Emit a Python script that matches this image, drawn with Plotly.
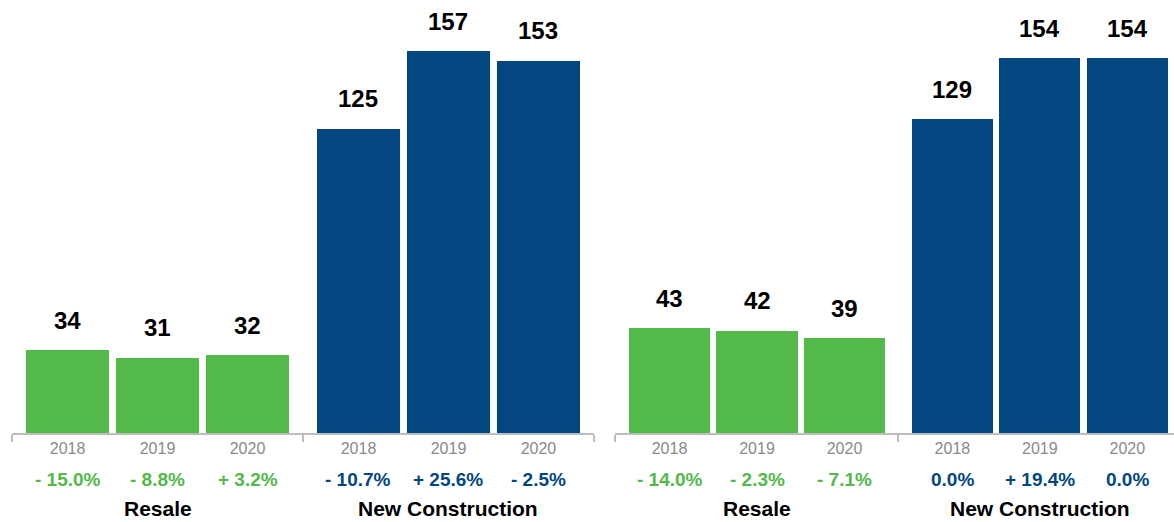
import plotly.graph_objects as go

# ---- data ----
years = ["2018", "2019", "2020"]
groups = ["Resale", "New Construction"]

left_resale = [34, 31, 32]
left_newcon = [125, 157, 153]
left_resale_pct = ["- 15.0%", "- 8.8%", "+ 3.2%"]
left_newcon_pct = ["- 10.7%", "+ 25.6%", "- 2.5%"]

right_resale = [43, 42, 39]
right_newcon = [129, 154, 154]
right_resale_pct = ["- 14.0%", "- 2.3%", "- 7.1%"]
right_newcon_pct = ["0.0%", "+ 19.4%", "0.0%"]

GREEN = "#53b94a"
BLUE = "#02477f"
FONT = "Liberation Sans, Arial, Helvetica, sans-serif"

GROUP_STEP = 3.233  # spacing between the two category groups (in bar slots)

panels = [
    dict(vals=[left_resale, left_newcon], pcts=[left_resale_pct, left_newcon_pct],
         xa="x", ya="y", width=0.922, pad=0.156, right_end=None),
    dict(vals=[right_resale, right_newcon], pcts=[right_resale_pct, right_newcon_pct],
         xa="x2", ya="y2", width=0.926, pad=0.16, right_end=5.766),
]

fig = go.Figure()
annotations = []
axes_cfg = {}

for p_i, p in enumerate(panels):
    for g_i, (vals, pcts) in enumerate(zip(p["vals"], p["pcts"])):
        color = GREEN if g_i == 0 else BLUE
        xs = [g_i * GROUP_STEP + i for i in range(len(years))]
        fig.add_trace(go.Bar(
            x=xs, y=vals, width=p["width"], marker=dict(color=color, line=dict(width=0)),
            xaxis=p["xa"], yaxis=p["ya"], showlegend=False, hoverinfo="skip",
        ))
        for x, v, pct in zip(xs, vals, pcts):
            annotations.append(dict(
                x=x, y=v, xref=p["xa"], yref=p["ya"], text=f"<b>{v}</b>",
                showarrow=False, yanchor="middle", yshift=30,
                font=dict(family=FONT, size=24, color="#000000"),
            ))
            annotations.append(dict(
                x=x, y=0, xref=p["xa"], yref=p["ya"], text=f"<b>{pct}</b>",
                showarrow=False, yanchor="middle", yshift=-46,
                font=dict(family=FONT, size=19, color=color),
            ))
        annotations.append(dict(
            x=g_i * GROUP_STEP + 1, y=0, xref=p["xa"], yref=p["ya"],
            text=f"<b>{groups[g_i]}</b>", showarrow=False, yanchor="middle", yshift=-75,
            font=dict(family=FONT, size=21, color="#000000"),
        ))

    half = p["width"] / 2
    left_edge = -half - p["pad"]
    mid = (2 + half + GROUP_STEP - half) / 2
    right_bracket = GROUP_STEP + 2 + half + p["pad"]
    rng_right = p["right_end"] if p["right_end"] is not None else right_bracket
    tickvals = [g * GROUP_STEP + i for g in range(2) for i in range(3)]
    axes_cfg[p["xa"]] = dict(
        range=[left_edge, rng_right],
        tickvals=tickvals, ticktext=years * 2, ticks="",
        tickfont=dict(family=FONT, size=16, color="#8a8a8a"),
        showline=True, linecolor="#bdbdbd", linewidth=2,
        showgrid=False, zeroline=False, fixedrange=True,
        minor=dict(tickvals=[left_edge, mid, right_bracket], ticks="outside",
                   ticklen=7, tickwidth=2, tickcolor="#bdbdbd", showgrid=False),
    )

W, H = 1174, 522
fig.update_layout(
    width=W, height=H,
    margin=dict(l=0, r=0, t=0, b=89),
    plot_bgcolor="white", paper_bgcolor="white",
    bargap=0,
    annotations=annotations,
    xaxis=dict(domain=[12 / W, 594 / W], **axes_cfg["x"]),
    xaxis2=dict(domain=[615 / W, 1.0], anchor="y2", **axes_cfg["x2"]),
    yaxis=dict(range=[0, 178], visible=False, fixedrange=True),
    yaxis2=dict(range=[0, 178], visible=False, anchor="x2", fixedrange=True),
)

fig.write_html(
    "out.html",
    config={"displayModeBar": False},
    post_script="document.body.style.margin='0';document.body.style.overflow='hidden';",
)
